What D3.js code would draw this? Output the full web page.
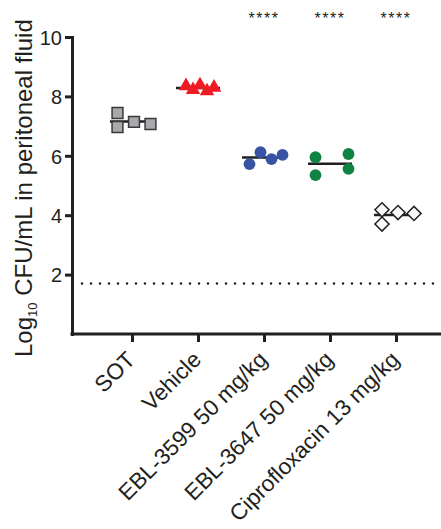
<!DOCTYPE html>
<html>
<head>
<meta charset="utf-8">
<script src="https://cdn.jsdelivr.net/npm/d3@7"></script>
<style>
    body { margin: 0; background: #fff; }
    svg text { font-family: "Liberation Sans", Arial, Helvetica, sans-serif; fill: #231f20; }
</style>
</head>
<body>
<div id="chart"></div>
<script>
//Datos
const groups = ['SOT', 'Vehicle', 'EBL-3599 50 mg/kg', 'EBL-3647 50 mg/kg', 'Ciprofloxacin 13 mg/kg'];
const sotValues = [7.44, 6.97, 7.14, 7.07];
const vehicleValues = [8.35, 8.22, 8.38, 8.18, 8.30];
const ebl3599Values = [5.72, 6.12, 5.89, 6.03];
const ebl3647Values = [5.95, 5.35, 6.06, 5.56];
const ciproValues = [4.18, 3.70, 4.09, 4.06];
const yTicks = [2, 4, 6, 8, 10];
const lodValue = 1.7;
const sigGroups = ['EBL-3599 50 mg/kg', 'EBL-3647 50 mg/kg', 'Ciprofloxacin 13 mg/kg'];
const sigLabel = '****';

const values = [sotValues, vehicleValues, ebl3599Values, ebl3647Values, ciproValues];

//Estilos de cada grupo (símbolo, color, separación horizontal)
const styles = [
    {symbol: d3.symbolSquare, size: 118, rotate: 0, fill: '#a7a9ac', stroke: '#3a3a3a', spread: 16.5},
    {symbol: d3.symbolTriangle, size: 92, rotate: 0, fill: '#ed1c24', stroke: 'none', spread: 7},
    {symbol: d3.symbolCircle, size: 110, rotate: 0, fill: '#3953a4', stroke: 'none', spread: 11},
    {symbol: d3.symbolCircle, size: 110, rotate: 0, fill: '#0f8442', stroke: 'none', spread: 33},
    {symbol: d3.symbolSquare, size: 100, rotate: 45, fill: '#f7f9fb', stroke: '#231f20', spread: 16}
];

const W = 441, H = 529;
const margin = {left: 72, top: 37, bottom: 334, right: 441};

let svg = d3.select('#chart')
    .append('svg')
        .attr('width', W)
        .attr('height', H);

let y = d3.scaleLinear()
    .domain([0, 10])
    .range([margin.bottom, margin.top]);

let x = d3.scalePoint()
    .domain(groups)
    .range([132, 396]);

//Eje Y
let yAxis = svg.append('g')
    .attr('transform', 'translate(' + margin.left + ',0)')
    .call(d3.axisLeft(y).tickValues(yTicks).tickSize(7).tickSizeOuter(0).tickPadding(3));

yAxis.select('.domain').attr('stroke', '#231f20').attr('stroke-width', 3).attr('stroke-linecap', 'square');
yAxis.selectAll('.tick line').attr('stroke', '#231f20').attr('stroke-width', 3);
yAxis.selectAll('.tick text').style('font-size', '20px').attr('dy', '0.36em');

//Eje X
svg.append('line')
    .attr('x1', margin.left)
    .attr('x2', margin.right)
    .attr('y1', y(0))
    .attr('y2', y(0))
    .attr('stroke', '#231f20')
    .attr('stroke-width', 3)
    .attr('stroke-linecap', 'square');

let xAxis = svg.append('g')
    .attr('transform', 'translate(0,' + y(0) + ')')
    .call(d3.axisBottom(x).tickSize(8).tickSizeOuter(0));

xAxis.select('.domain').remove();
xAxis.selectAll('.tick line').attr('stroke', '#231f20').attr('stroke-width', 3);
xAxis.selectAll('.tick text')
    .style('font-size', '22.5px')
    .attr('text-anchor', 'end')
    .attr('y', 0)
    .attr('dy', 0)
    .attr('transform', 'translate(4,27) rotate(-45)');

//Título eje Y
let yTitle = svg.append('text')
    .attr('transform', 'translate(32,357) rotate(-90)')
    .attr('text-anchor', 'start')
    .style('font-size', '24px');
yTitle.append('tspan').text('Log');
yTitle.append('tspan').text('10').style('font-size', '13px').attr('dy', 5);
yTitle.append('tspan').text(' CFU/mL in peritoneal fluid').attr('dy', -5);

//Límite de detección
svg.append('line')
    .attr('x1', margin.left + 10)
    .attr('x2', margin.right)
    .attr('y1', y(lodValue))
    .attr('y2', y(lodValue))
    .attr('stroke', '#231f20')
    .attr('stroke-width', 2.6)
    .attr('stroke-linecap', 'round')
    .attr('stroke-dasharray', '0 9');

//Columnas tipo "scatter": se desplaza a la derecha si choca con otro punto
function getColumns(vals, threshold) {
    let px = vals.map(function(v) { return y(v); });
    let cols = [];
    px.forEach(function(p, i) {
        let c = 0;
        while (px.slice(0, i).some(function(q, j) { return cols[j] === c && Math.abs(q - p) < threshold; })) c++;
        cols.push(c);
    });
    return cols;
}

groups.forEach(function(g, gi) {
    let vals = values[gi];
    let st = styles[gi];
    let cx = x(g);

    //Media
    let m = d3.mean(vals);
    svg.append('line')
        .attr('x1', cx - 22)
        .attr('x2', cx + 22)
        .attr('y1', y(m))
        .attr('y2', y(m))
        .attr('stroke', '#231f20')
        .attr('stroke-width', 2.5);

    let cols = getColumns(vals, 12);
    let maxCol = d3.max(cols);

    svg.append('g')
        .selectAll('path')
        .data(vals)
        .enter()
        .append('path')
        .attr('d', d3.symbol().type(st.symbol).size(st.size))
        .attr('transform', function(d, i) {
            let px = cx + 2 + (cols[i] - maxCol / 2) * st.spread;
            return 'translate(' + px + ',' + y(d) + ') rotate(' + st.rotate + ')';
        })
        .attr('fill', st.fill)
        .attr('stroke', st.stroke)
        .attr('stroke-width', 1.5);
});

//Significación
svg.append('g')
    .selectAll('text')
    .data(sigGroups)
    .enter()
    .append('text')
    .attr('x', function(d) { return x(d); })
    .attr('y', 24)
    .attr('text-anchor', 'middle')
    .style('font-size', '16px')
    .style('letter-spacing', '1.5px')
    .text(sigLabel);
</script>
</body>
</html>
